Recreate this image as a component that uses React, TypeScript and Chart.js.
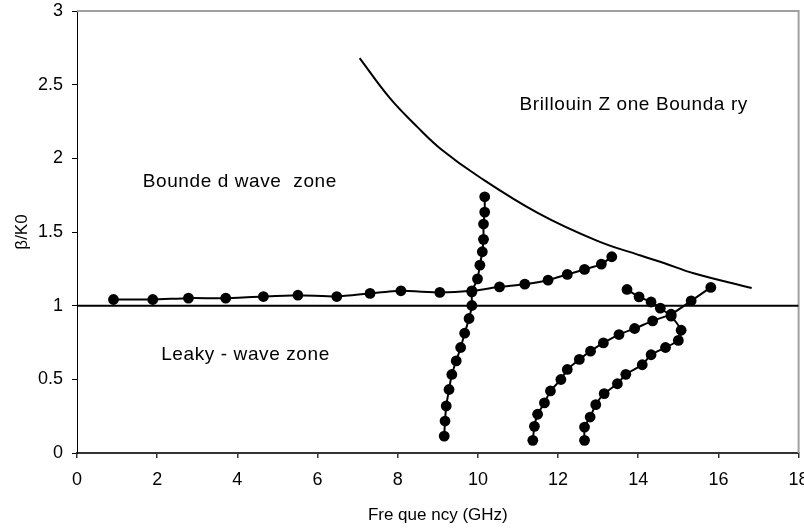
import React, { useEffect, useRef } from "react";
import { Chart, registerables } from "chart.js";

Chart.register(...registerables);

// ---- data ----
const freqBounded = [0.91, 1.89, 2.78, 3.71, 4.65, 5.51, 6.48, 7.31, 8.08, 9.05, 9.85, 10.54, 11.17, 11.75, 12.23, 12.66, 13.08, 13.34];
const betaBounded = [1.042, 1.042, 1.051, 1.051, 1.062, 1.071, 1.062, 1.083, 1.101, 1.09, 1.101, 1.128, 1.146, 1.173, 1.212, 1.246, 1.282, 1.332];

const freqMode2 = [9.16, 9.18, 9.21, 9.28, 9.35, 9.46, 9.57, 9.67, 9.78, 9.85, 9.85, 9.99, 10.05, 10.11, 10.14, 10.14, 10.17, 10.17];
const betaMode2 = [0.115, 0.217, 0.319, 0.431, 0.533, 0.625, 0.716, 0.813, 0.913, 1.001, 1.094, 1.182, 1.275, 1.366, 1.45, 1.554, 1.635, 1.739];

const freqMode3 = [11.37, 11.41, 11.49, 11.66, 11.81, 12.07, 12.23, 12.53, 12.81, 13.13, 13.52, 13.91, 14.36, 14.82, 15.32, 15.81];
const betaMode3 = [0.086, 0.181, 0.263, 0.34, 0.421, 0.499, 0.567, 0.635, 0.691, 0.747, 0.804, 0.845, 0.897, 0.942, 1.033, 1.124];

const freqMode4 = [12.66, 12.66, 12.8, 12.94, 13.15, 13.48, 13.69, 14.1, 14.32, 14.68, 15.0, 15.07, 14.82, 14.55, 14.32, 14.02, 13.72];
const betaMode4 = [0.086, 0.176, 0.244, 0.328, 0.403, 0.47, 0.534, 0.599, 0.667, 0.716, 0.764, 0.833, 0.929, 0.983, 1.025, 1.06, 1.11];

const freqBrillouin = [7.05, 7.8, 8.5, 9.09, 10.0, 11.49, 12.98, 14.06, 14.64, 15.38, 16.83];
const betaBrillouin = [2.68, 2.41, 2.21, 2.06, 1.88, 1.63, 1.44, 1.34, 1.29, 1.22, 1.12];

const freqLightLine = [0, 18];
const betaLightLine = [1, 1];

const xTickValues = [0, 2, 4, 6, 8, 10, 12, 14, 16, 18];
const yTickValues = [0, 0.5, 1, 1.5, 2, 2.5, 3];

const xTitle = "Fre que ncy (GHz)";
const yTitle = "β/K0";

// annotation texts with their anchor (data units, left/baseline)
const annotationTexts = ["Brillouin Z one Bounda ry", "Bounde d wave  zone", "Leaky - wave zone"];
const annotationFreq = [11.04, 1.64, 2.1];
const annotationBeta = [2.328, 1.807, 0.63];

const zip = (xs: number[], ys: number[]) => xs.map((x, i) => ({ x, y: ys[i] }));

const FONT = "'Liberation Sans', Arial, Helvetica, sans-serif";

const framePlugin = {
  id: "frame",
  beforeDatasetsDraw(chart: any) {
    const { ctx, chartArea } = chart;
    ctx.save();
    ctx.strokeStyle = "#a0a0a0";
    ctx.lineWidth = 2;
    ctx.beginPath();
    ctx.moveTo(chartArea.left, chartArea.top);
    ctx.lineTo(chartArea.right, chartArea.top);
    ctx.lineTo(chartArea.right, chartArea.bottom);
    ctx.stroke();
    ctx.restore();
  },
  afterDatasetsDraw(chart: any) {
    const { ctx } = chart;
    const xs = chart.scales.x;
    const ys = chart.scales.y;
    ctx.save();
    ctx.fillStyle = "#000";
    ctx.font = `19px ${FONT}`;
    try {
      (ctx as any).letterSpacing = "0.6px";
    } catch (e) {}
    ctx.textAlign = "left";
    ctx.textBaseline = "alphabetic";
    annotationTexts.forEach((t, i) => {
      ctx.fillText(t, xs.getPixelForValue(annotationFreq[i]), ys.getPixelForValue(annotationBeta[i]));
    });
    ctx.restore();
  },
};

export default function App() {
  const ref = useRef<HTMLCanvasElement | null>(null);

  useEffect(() => {
    if (!ref.current) return;
    Chart.defaults.font.family = FONT;
    Chart.defaults.color = "#000";

    const markerSeries = (data: any) => ({
      data,
      showLine: true,
      borderColor: "#000",
      backgroundColor: "#000",
      borderWidth: 2,
      pointRadius: 5.4,
      pointBorderWidth: 0,
      pointBackgroundColor: "#000",
      tension: 0.2,
    });

    const chart = new Chart(ref.current, {
      type: "scatter",
      data: {
        datasets: [
          {
            data: zip(freqLightLine, betaLightLine),
            showLine: true,
            borderColor: "#000",
            borderWidth: 2,
            pointRadius: 0,
            tension: 0,
          },
          {
            data: zip(freqBrillouin, betaBrillouin),
            showLine: true,
            borderColor: "#000",
            borderWidth: 2,
            pointRadius: 0,
            tension: 0.4,
          },
          markerSeries(zip(freqBounded, betaBounded)),
          markerSeries(zip(freqMode2, betaMode2)),
          markerSeries(zip(freqMode3, betaMode3)),
          markerSeries(zip(freqMode4, betaMode4)),
        ] as any,
      },
      options: {
        animation: false,
        responsive: false,
        devicePixelRatio: 1,
        layout: { padding: { top: 11, right: 2, left: 0, bottom: 0 } },
        plugins: { legend: { display: false }, tooltip: { enabled: false } },
        scales: {
          x: {
            type: "linear",
            min: 0,
            max: 18,
            afterBuildTicks: (s: any) => {
              s.ticks = xTickValues.map((v) => ({ value: v }));
            },
            afterFit: (s: any) => {
              s.height = 76;
              s.paddingLeft = 0;
              s.paddingRight = 0;
            },
            ticks: {
              font: { size: 18 },
              color: "#000",
              padding: 11,
              maxRotation: 0,
              autoSkip: false,
              callback: (v: any) => String(v),
            },
            grid: {
              drawOnChartArea: false,
              drawTicks: true,
              tickLength: 5,
              color: "#333",
              tickColor: "#333",
              lineWidth: 1.5,
            },
            border: { display: true, color: "#333", width: 2 },
            title: {
              display: true,
              text: xTitle,
              font: { size: 17 },
              color: "#000",
              padding: { top: 0, bottom: 3 },
            },
          },
          y: {
            type: "linear",
            min: 0,
            max: 3,
            afterBuildTicks: (s: any) => {
              s.ticks = yTickValues.map((v) => ({ value: v }));
            },
            afterFit: (s: any) => {
              s.width = 77;
              s.paddingTop = 0;
              s.paddingBottom = 0;
            },
            ticks: {
              font: { size: 18 },
              color: "#000",
              padding: 9,
              autoSkip: false,
              callback: (v: any) => String(v),
            },
            grid: {
              drawOnChartArea: false,
              drawTicks: true,
              tickLength: 5,
              color: "#000",
              tickColor: "#000",
            },
            border: { display: true, color: "#000", width: 1 },
            title: {
              display: true,
              text: yTitle,
              font: { size: 17 },
              color: "#000",
              padding: { top: 12, bottom: 0 },
            },
          },
        },
      },
      plugins: [framePlugin],
    } as any);

    return () => chart.destroy();
  }, []);

  return (
    <div style={{ position: "absolute", left: 0, top: 0, width: 804, height: 529, background: "#fff" }}>
      <canvas ref={ref} width={804} height={529} style={{ display: "block", width: 804, height: 529 }} />
    </div>
  );
}
